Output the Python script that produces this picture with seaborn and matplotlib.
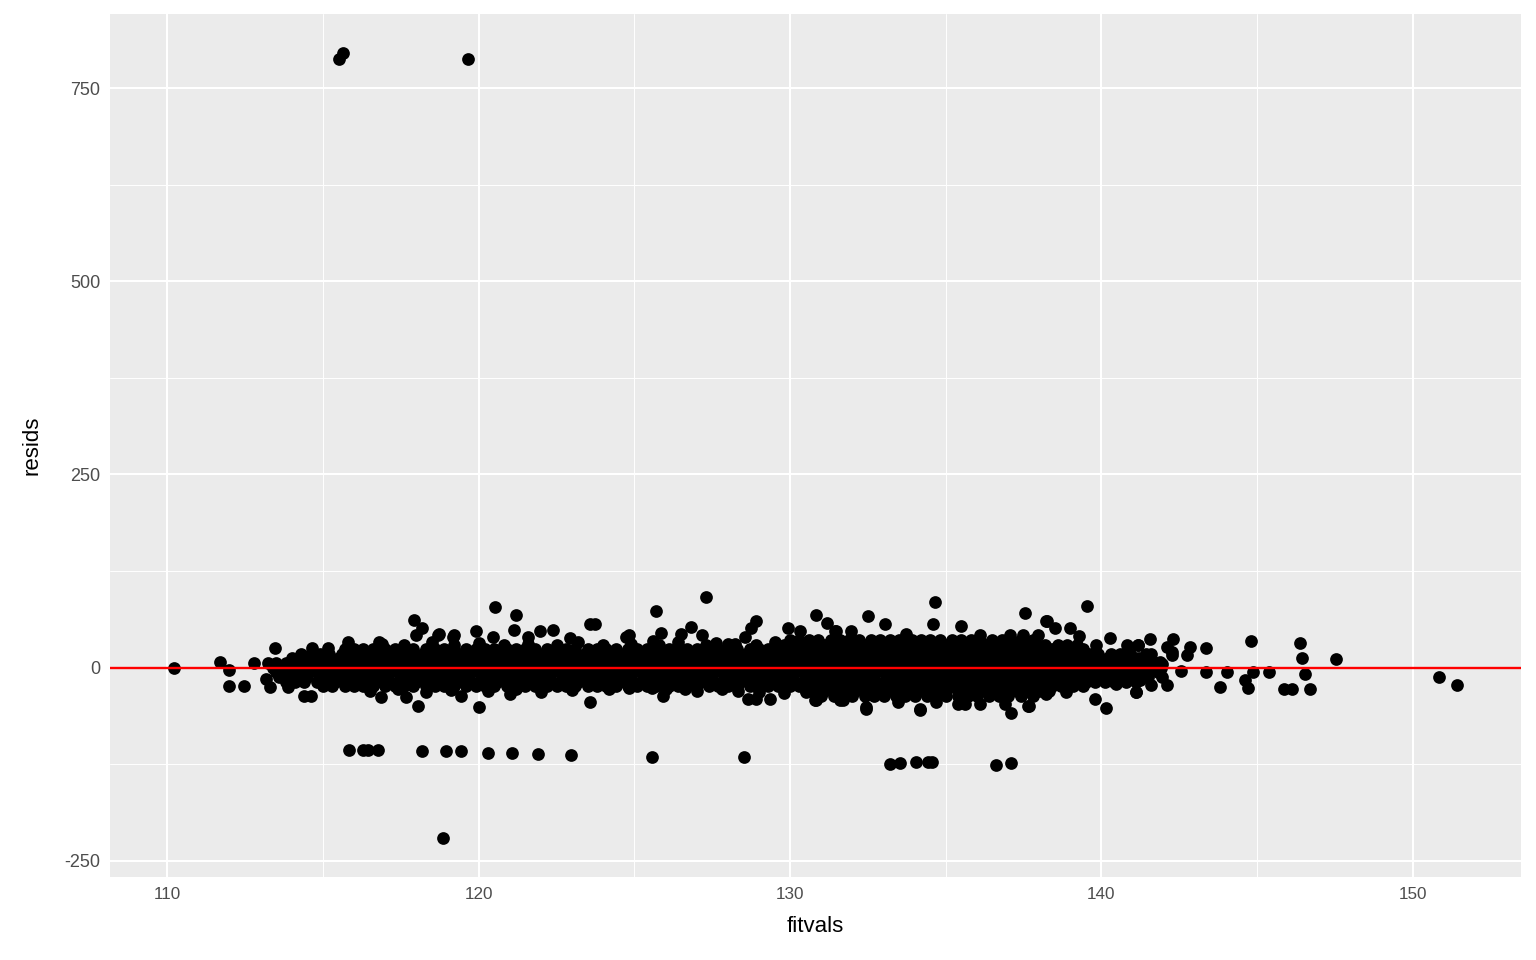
import pandas as pd
import seaborn as sns
import matplotlib.pyplot as plt

row_p36 = [130.0, 130.3, 130.6, 130.9, 131.3, 131.6, 131.9, 132.2, 132.6, 132.9, 133.2, 133.5,
           133.9, 134.2, 134.5, 134.8, 135.2, 135.5, 135.8, 136.1, 136.5, 136.8, 137.1, 137.4, 137.8]
row_p30 = [129.8, 130.1, 130.4, 130.8, 131.1, 131.4, 131.7, 132.1, 132.4, 132.7, 133.0, 133.4,
           133.7, 134.0, 134.3, 134.7, 135.0, 135.3, 135.6, 136.0, 136.3, 136.6, 136.9, 137.3,
           137.6, 137.9, 138.2, 138.6, 138.9, 139.2]
row_p24 = [115.7, 116.0, 116.3, 116.6, 117.0, 117.3, 117.6, 117.9, 118.3, 118.6, 118.9, 119.2,
           119.6, 119.9, 120.2, 120.5, 120.9, 121.2, 121.5, 121.8, 122.2, 122.5, 122.8, 123.1,
           123.5, 123.8, 124.1, 124.4, 124.8, 125.1, 125.4, 125.7, 126.1, 126.4, 126.7, 127.0,
           127.4, 127.7, 128.0, 128.3, 128.7, 129.0, 129.3, 129.6, 130.0, 130.3, 130.6, 130.9,
           131.3, 131.6, 131.9, 132.2, 132.6, 132.9, 133.2, 133.5, 133.9, 134.2, 134.5, 134.8,
           135.2, 135.5, 135.8, 136.1, 136.5, 136.8, 137.1, 137.4, 137.8, 138.1, 138.4, 138.7,
           139.1, 139.4]
row_p18 = [114.3, 114.6, 114.9, 115.2, 115.6, 115.9, 116.2, 116.5, 116.9, 117.2, 117.5, 117.8,
           118.2, 118.5, 118.8, 119.1, 119.5, 119.8, 120.1, 120.4, 120.8, 121.1, 121.4, 121.7,
           122.1, 122.4, 122.7, 123.0, 123.4, 123.7, 124.0, 124.3, 124.7, 125.0, 125.3, 125.6,
           126.0, 126.3, 126.6, 126.9, 127.3, 127.6, 127.9, 128.2, 128.6, 128.9, 129.2, 129.5,
           129.9, 130.2, 130.5, 130.8, 131.2, 131.5, 131.8, 132.1, 132.5, 132.8, 133.1, 133.4,
           133.8, 134.1, 134.4, 134.7, 135.1, 135.4, 135.7, 136.0, 136.4, 136.7, 137.0, 137.3,
           137.7, 138.0, 138.3, 138.6, 139.0, 139.3, 139.6, 139.9, 140.3, 140.6, 140.9]
row_p12 = [114.0, 114.2, 114.5, 114.9, 115.2, 115.5, 115.8, 116.2, 116.5, 116.8, 117.1, 117.5,
           117.8, 118.1, 118.4, 118.8, 119.1, 119.4, 119.7, 120.1, 120.4, 120.7, 121.0, 121.4,
           121.7, 122.0, 122.3, 122.7, 123.0, 123.3, 123.6, 124.0, 124.3, 124.6, 124.9, 125.3,
           125.6, 125.9, 126.2, 126.6, 126.9, 127.2, 127.5, 127.9, 128.2, 128.5, 128.8, 129.2,
           129.5, 129.8, 130.1, 130.5, 130.8, 131.1, 131.4, 131.8, 132.1, 132.4, 132.7, 133.1,
           133.4, 133.7, 134.0, 134.4, 134.7, 135.0, 135.3, 135.7, 136.0, 136.3, 136.6, 137.0,
           137.3, 137.6, 137.9, 138.3, 138.6, 138.9, 139.2, 139.6, 139.9, 140.2, 140.5, 140.9,
           141.2, 141.5]
row_p6 = [113.5, 113.8, 114.1, 114.4, 114.8, 115.1, 115.4, 115.7, 116.1, 116.4, 116.7, 117.0,
          117.4, 117.7, 118.0, 118.3, 118.7, 119.0, 119.3, 119.6, 120.0, 120.3, 120.6, 120.9,
          121.3, 121.6, 121.9, 122.2, 122.6, 122.9, 123.2, 123.5, 123.9, 124.2, 124.5, 124.8,
          125.2, 125.5, 125.8, 126.1, 126.5, 126.8, 127.1, 127.4, 127.8, 128.1, 128.4, 128.7,
          129.1, 129.4, 129.7, 130.0, 130.4, 130.7, 131.0, 131.3, 131.7, 132.0, 132.3, 132.6,
          133.0, 133.3, 133.6, 133.9, 134.3, 134.6, 134.9, 135.2, 135.6, 135.9, 136.2, 136.5,
          136.9, 137.2, 137.5, 137.8, 138.2, 138.5, 138.8, 139.1, 139.5, 139.8, 140.1, 140.4,
          140.8, 141.1, 141.4, 141.8]
row_0 = [113.4, 113.7, 114.0, 114.4, 114.7, 115.0, 115.3, 115.7, 116.0, 116.3, 116.6, 117.0,
         117.3, 117.6, 117.9, 118.3, 118.6, 118.9, 119.2, 119.6, 119.9, 120.2, 120.5, 120.9,
         121.2, 121.5, 121.8, 122.2, 122.5, 122.8, 123.1, 123.5, 123.8, 124.1, 124.4, 124.8,
         125.1, 125.4, 125.7, 126.1, 126.4, 126.7, 127.0, 127.4, 127.7, 128.0, 128.3, 128.7,
         129.0, 129.3, 129.6, 130.0, 130.3, 130.6, 130.9, 131.3, 131.6, 131.9, 132.2, 132.6,
         132.9, 133.2, 133.5, 133.9, 134.2, 134.5, 134.8, 135.2, 135.5, 135.8, 136.1, 136.5,
         136.8, 137.1, 137.4, 137.8, 138.1, 138.4, 138.7, 139.1, 139.4, 139.7, 140.0, 140.4,
         140.7, 141.0, 141.3, 141.7, 141.9]
row_m6 = [113.5, 113.8, 114.1, 114.5, 114.8, 115.1, 115.4, 115.8, 116.1, 116.4, 116.7, 117.1,
          117.4, 117.7, 118.0, 118.4, 118.7, 119.0, 119.3, 119.7, 120.0, 120.3, 120.6, 121.0,
          121.3, 121.6, 121.9, 122.3, 122.6, 122.9, 123.2, 123.6, 123.9, 124.2, 124.5, 124.9,
          125.2, 125.5, 125.8, 126.2, 126.5, 126.8, 127.1, 127.5, 127.8, 128.1, 128.4, 128.8,
          129.1, 129.4, 129.7, 130.1, 130.4, 130.7, 131.0, 131.4, 131.7, 132.0, 132.3, 132.7,
          133.0, 133.3, 133.6, 134.0, 134.3, 134.6, 134.9, 135.3, 135.6, 135.9, 136.2, 136.6,
          136.9, 137.2, 137.5, 137.9, 138.2, 138.5, 138.8, 139.2, 139.5, 139.8, 140.1, 140.5,
          140.8, 141.1, 141.4, 141.8]
row_m12 = [113.6, 113.9, 114.2, 114.5, 114.9, 115.2, 115.5, 115.8, 116.2, 116.5, 116.8, 117.1,
           117.5, 117.8, 118.1, 118.4, 118.8, 119.1, 119.4, 119.7, 120.1, 120.4, 120.7, 121.0,
           121.4, 121.7, 122.0, 122.3, 122.7, 123.0, 123.3, 123.6, 124.0, 124.3, 124.6, 124.9,
           125.3, 125.6, 125.9, 126.2, 126.6, 126.9, 127.2, 127.5, 127.9, 128.2, 128.5, 128.8,
           129.2, 129.5, 129.8, 130.1, 130.5, 130.8, 131.1, 131.4, 131.8, 132.1, 132.4, 132.7,
           133.1, 133.4, 133.7, 134.0, 134.4, 134.7, 135.0, 135.3, 135.7, 136.0, 136.3, 136.6,
           137.0, 137.3, 137.6, 137.9, 138.3, 138.6, 138.9, 139.2, 139.6, 139.9, 140.2, 140.5,
           140.9, 141.2, 141.5]
row_m18 = [113.8, 114.1, 114.4, 114.8, 115.1, 115.4, 115.7, 116.1, 116.4, 116.7, 117.0, 117.4,
           117.7, 118.0, 118.3, 118.7, 119.0, 119.3, 119.6, 120.0, 120.3, 120.6, 120.9, 121.3,
           121.6, 121.9, 122.2, 122.6, 122.9, 123.2, 123.5, 123.9, 124.2, 124.5, 124.8, 125.2,
           125.5, 125.8, 126.1, 126.5, 126.8, 127.1, 127.4, 127.8, 128.1, 128.4, 128.7, 129.1,
           129.4, 129.7, 130.0, 130.4, 130.7, 131.0, 131.3, 131.7, 132.0, 132.3, 132.6, 133.0,
           133.3, 133.6, 133.9, 134.3, 134.6, 134.9, 135.2, 135.6, 135.9, 136.2, 136.5, 136.9,
           137.2, 137.5, 137.8, 138.2, 138.5, 138.8, 139.1, 139.5, 139.8, 140.1, 140.4, 140.8,
           141.1]
row_m24 = [115.0, 115.3, 115.7, 116.0, 116.3, 116.6, 117.0, 117.3, 117.6, 117.9, 118.3, 118.6,
           118.9, 119.2, 119.6, 119.9, 120.2, 120.5, 120.9, 121.2, 121.5, 121.8, 122.2, 122.5,
           122.8, 123.1, 123.5, 123.8, 124.1, 124.4, 124.8, 125.1, 125.4, 125.7, 126.1, 126.4,
           126.7, 127.0, 127.4, 127.7, 128.0, 128.3, 128.7, 129.0, 129.3, 129.6, 130.0, 130.3,
           130.6, 130.9, 131.3, 131.6, 131.9, 132.2, 132.6, 132.9, 133.2, 133.5, 133.9, 134.2,
           134.5, 134.8, 135.2, 135.5, 135.8, 136.1, 136.5, 136.8, 137.1, 137.4, 137.8, 138.1,
           138.4, 138.7, 139.1, 139.4]
row_m30 = [130.5, 130.8, 131.1, 131.5, 131.8, 132.1, 132.4, 132.8, 133.1, 133.4, 133.7, 134.1,
           134.4, 134.7, 135.0, 135.4, 135.7, 136.0, 136.3, 136.7, 137.0, 137.3, 137.6, 138.0, 138.3]
row_m36 = [131.0, 131.4, 131.7, 132.0, 132.4, 132.7, 133.0, 133.4, 133.7, 134.0, 134.4, 134.7,
           135.0, 135.4, 135.7, 136.0, 136.4, 136.7, 137.0, 137.4, 137.8]

band_rows = {36: row_p36, 30: row_p30, 24: row_p24, 18: row_p18, 12: row_p12, 6: row_p6,
             0: row_0, -6: row_m6, -12: row_m12, -18: row_m18, -24: row_m24,
             -30: row_m30, -36: row_m36}

# scattered points around the band, tails and outliers
edge_x = [115.53, 115.65, 119.67, 118.87,
          115.82, 116.30, 116.44, 116.78, 118.19, 118.95, 119.44, 120.30, 121.06, 121.92,
          122.98, 125.55, 128.53, 133.22, 133.52, 134.03, 134.43, 134.57, 136.62, 137.08,
          110.22, 111.70, 111.97, 111.97, 112.47, 112.80, 113.22, 113.17, 113.30, 113.87,
          113.47, 114.38, 114.61, 114.64, 115.15, 115.79, 116.81, 117.91, 118.18, 117.99,
          119.90, 118.04, 120.02, 116.86, 117.67, 119.44, 118.69, 119.22,
          120.54, 121.20, 121.12, 121.97, 122.38, 123.56, 123.72, 120.45, 118.72, 119.17,
          121.58, 122.92, 124.74, 123.56, 120.99,
          127.29, 125.68, 126.82, 127.18, 128.91, 128.75, 128.54, 130.84, 131.18, 125.86,
          125.59, 126.50, 127.63, 128.22, 124.84, 129.93, 130.31, 131.43,
          124.82, 125.57, 125.91, 126.61, 128.32, 128.64, 128.91, 129.34, 130.79, 131.59,
          134.64, 132.50, 137.53, 138.23, 133.04, 134.59, 131.48, 131.97, 135.50, 133.73,
          136.09, 137.05, 137.96, 137.48,
          131.70, 132.45, 134.16, 135.39, 135.61, 136.09, 137.64, 133.46, 134.70, 136.89,
          130.82, 132.45, 134.16, 137.11, 137.67, 139.78, 140.14, 141.10, 140.27, 139.52,
          138.24, 138.50, 138.98,
          139.28, 140.82, 141.18, 139.83, 138.87, 138.23, 140.48, 141.93, 141.60, 142.25,
          141.57, 142.30, 142.09, 142.84, 143.35, 142.75, 142.28, 141.44, 141.18, 141.07,
          141.87, 142.54, 143.37, 144.03, 144.85, 144.79, 145.38, 144.60, 143.80, 144.72,
          145.86, 146.12, 146.70, 146.39, 146.45, 146.54, 147.53, 150.85, 151.41, 141.10,
          141.60, 142.09, 141.93, 141.23,
          116.9, 117.6, 118.5, 119.2, 120.0, 120.8, 121.6, 122.5, 123.2, 124.0, 124.9,
          125.8, 126.4, 127.3, 128.0, 128.9, 129.5,
          116.5, 117.4, 118.3, 119.1, 120.3, 121.2, 122.0, 123.0, 124.2, 126.0, 127.0,
          127.8, 129.0, 129.8, 130.5]
edge_y = [788, 795, 787, -220,
          -106, -106, -106, -106, -108, -108, -108, -110, -110, -112,
          -113, -116, -116, -125, -123, -122, -122, -122, -126, -123,
          0, 7, -3, -24, -24, 6, 6, -14, -25, -25,
          26, -36, -36, 25, 25, 33, 33, 62, 52, 42,
          48, -49, -51, -38, -38, -36, 42, 42,
          79, 68, 49, 48, 49, 56, 56, 40, 44, 40,
          40, 38, 40, -45, -34,
          92, 74, 53, 42, 61, 51, 40, 68, 58, 45,
          35, 43, 32, 31, 42, 51, 48, 48,
          -26, -26, -37, -28, -30, -40, -40, -40, -42, -42,
          85, 67, 71, 61, 57, 56, 48, 47, 54, 44,
          42, 42, 42, 42,
          -42, -51, -53, -47, -47, -47, -49, -45, -45, -47,
          -42, -53, -55, -58, -49, -41, -52, -32, 39, 80,
          61, 51, 51,
          41, 29, 29, 30, -32, -34, -21, 5, 18, 20,
          37, 37, 27, 27, 26, 16, 16, 18, 29, 12,
          7, -4, -5, -6, -6, 34, -6, -16, -25, -26,
          -27, -27, -28, 32, 13, -8, 11, -12, -23, -32,
          -23, -23, -12, -16,
          31, 30, 33, 30, 32, 29, 31, 30, 33, 30, 31,
          29, 33, 30, 31, 29, 33,
          -30, -28, -31, -29, -30, -28, -31, -29, -27, -28, -30,
          -27, -31, -33, -32]

frames = [pd.DataFrame({"fitvals": xs, "resids": level}) for level, xs in band_rows.items()]
frames.append(pd.DataFrame({"fitvals": edge_x, "resids": edge_y}))
df = pd.concat(frames, ignore_index=True)

sns.set_theme(style="darkgrid", rc={
    "axes.facecolor": "#EBEBEB",
    "grid.color": "white",
    "axes.edgecolor": "#EBEBEB",
    "axes.linewidth": 0,
})
plt.rcParams["font.family"] = ["Liberation Sans", "DejaVu Sans"]
plt.rcParams["axes.unicode_minus"] = False

fig, ax = plt.subplots(figsize=(15.36, 9.6), dpi=100)
fig.subplots_adjust(left=0.0716, right=0.9902, top=0.9854, bottom=0.0865)

sns.scatterplot(data=df, x="fitvals", y="resids", color="black", s=84,
                linewidth=0, ax=ax, zorder=3)
ax.axhline(0, color="red", linewidth=1.7, zorder=4)

# ggplot-like 5% expansion
xmin, xmax = df["fitvals"].min(), df["fitvals"].max()
ymin, ymax = df["resids"].min(), df["resids"].max()
ax.set_xlim(xmin - 0.05 * (xmax - xmin), xmax + 0.05 * (xmax - xmin))
ax.set_ylim(ymin - 0.05 * (ymax - ymin), ymax + 0.05 * (ymax - ymin))

ax.set_xticks([110, 120, 130, 140, 150])
ax.set_yticks([-250, 0, 250, 500, 750])
ax.set_xticks([115, 125, 135, 145], minor=True)
ax.set_yticks([-125, 125, 375, 625], minor=True)
ax.grid(which="major", color="white", linewidth=1.5)
ax.grid(which="minor", color="white", linewidth=0.7)
ax.set_axisbelow(True)
ax.tick_params(which="major", length=4, width=1.1, color="#333333",
               labelcolor="#4D4D4D", pad=3)
ax.tick_params(axis="x", which="major", labelsize=12.3)
ax.tick_params(axis="y", which="major", labelsize=13)
ax.tick_params(which="minor", length=0)
for s in ax.spines.values():
    s.set_visible(False)

ax.set_xlabel("fitvals", fontsize=16, color="black", labelpad=10)
ax.set_ylabel("resids", fontsize=16, color="black", labelpad=16)

plt.savefig("out.png", dpi=100)
